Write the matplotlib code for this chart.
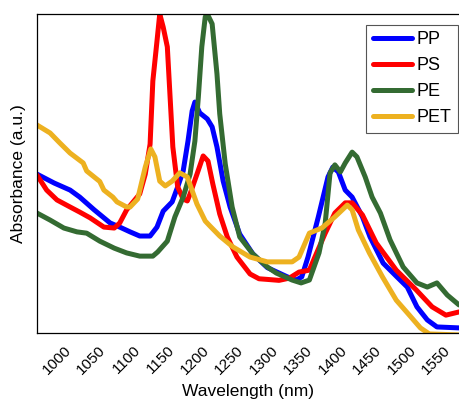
import numpy as np
import matplotlib
matplotlib.use("Agg")
import matplotlib.pyplot as plt

plt.rcParams['font.family'] = ['Liberation Sans', 'DejaVu Sans']

# Spectra (wavelength in nm, absorbance in a.u.)
pp_wl = [961, 986, 1009, 1023, 1044, 1067, 1081, 1096, 1110, 1125, 1135, 1144, 1157,
         1165, 1173, 1180, 1186, 1190, 1197, 1208, 1215, 1222, 1231, 1241, 1255, 1274,
         1295, 1324, 1337, 1345, 1354, 1369, 1383, 1390, 1398, 1408, 1418, 1433, 1444,
         1463, 1483, 1498, 1512, 1527, 1541, 1573]
pp_abs = [0.498, 0.470, 0.448, 0.426, 0.386, 0.345, 0.332, 0.317, 0.304, 0.304, 0.332,
          0.382, 0.411, 0.458, 0.508, 0.602, 0.696, 0.724, 0.690, 0.671, 0.646, 0.583,
          0.476, 0.395, 0.310, 0.248, 0.205, 0.176, 0.166, 0.176, 0.238, 0.364, 0.489,
          0.520, 0.505, 0.448, 0.426, 0.364, 0.301, 0.219, 0.176, 0.144, 0.082, 0.041,
          0.019, 0.016]

ps_wl = [961, 975, 990, 1009, 1023, 1038, 1058, 1073, 1081, 1091, 1110, 1118, 1125,
         1129, 1135, 1139, 1144, 1150, 1154, 1158, 1165, 1173, 1179, 1183, 1193, 1202,
         1209, 1216, 1226, 1237, 1251, 1270, 1283, 1295, 1312, 1327, 1341, 1356, 1364,
         1379, 1393, 1408, 1418, 1433, 1453, 1482, 1511, 1534, 1554, 1573]
ps_abs = [0.495, 0.448, 0.417, 0.395, 0.379, 0.361, 0.332, 0.329, 0.345, 0.386, 0.436,
          0.498, 0.592, 0.790, 0.915, 1.000, 0.959, 0.897, 0.740, 0.583, 0.458, 0.420,
          0.414, 0.436, 0.498, 0.555, 0.539, 0.467, 0.373, 0.301, 0.238, 0.185, 0.170,
          0.168, 0.165, 0.172, 0.191, 0.197, 0.238, 0.313, 0.376, 0.408, 0.408, 0.370,
          0.282, 0.197, 0.135, 0.082, 0.056, 0.066]

pe_wl = [961, 980, 1000, 1019, 1033, 1052, 1073, 1091, 1110, 1129, 1136, 1150, 1161,
         1173, 1183, 1190, 1195, 1200, 1205, 1208, 1215, 1222, 1226, 1234, 1244, 1255,
         1274, 1295, 1308, 1331, 1344, 1356, 1370, 1379, 1386, 1393, 1401, 1408, 1418,
         1425, 1437, 1447, 1459, 1473, 1492, 1512, 1527, 1541, 1556, 1573]
pe_abs = [0.376, 0.354, 0.329, 0.317, 0.313, 0.288, 0.266, 0.251, 0.241, 0.241, 0.254,
          0.288, 0.364, 0.426, 0.498, 0.602, 0.740, 0.897, 0.991, 1.000, 0.969, 0.812,
          0.687, 0.530, 0.395, 0.301, 0.248, 0.207, 0.188, 0.166, 0.157, 0.166, 0.251,
          0.345, 0.502, 0.527, 0.505, 0.533, 0.567, 0.552, 0.489, 0.426, 0.376, 0.292,
          0.207, 0.157, 0.144, 0.157, 0.119, 0.088]

pet_wl = [961, 980, 994, 1009, 1028, 1033, 1052, 1058, 1071, 1077, 1091, 1096, 1107,
          1118, 1126, 1132, 1139, 1147, 1157, 1168, 1179, 1193, 1205, 1212, 1226, 1245,
          1270, 1295, 1331, 1341, 1356, 1374, 1393, 1411, 1418, 1427, 1443, 1462, 1482,
          1501, 1517, 1530, 1573]
pet_abs = [0.652, 0.627, 0.596, 0.564, 0.533, 0.508, 0.475, 0.448, 0.426, 0.411, 0.395,
           0.395, 0.420, 0.520, 0.577, 0.552, 0.476, 0.461, 0.476, 0.502, 0.489, 0.404,
           0.351, 0.335, 0.304, 0.270, 0.238, 0.223, 0.223, 0.238, 0.313, 0.329, 0.364,
           0.401, 0.386, 0.323, 0.251, 0.176, 0.103, 0.056, 0.016, -0.003, -0.006]

labels = ["PP", "PS", "PE", "PET"]
colors = ["#0000ff", "#ff0000", "#346b32", "#edb120"]
xticks = list(range(1000, 1551, 50))

fig = plt.figure(figsize=(4.59, 4.01), dpi=100)
ax = fig.add_axes([37 / 459, 68 / 401, 422 / 459, 319 / 401])

for wl, ab, lab, col in zip([pp_wl, ps_wl, pe_wl, pet_wl],
                            [pp_abs, ps_abs, pe_abs, pet_abs], labels, colors):
    ax.plot(wl, ab, color=col, lw=3.6, label=lab, solid_joinstyle='round',
            solid_capstyle='round')

ax.set_xlim(961, 1573)
ax.set_ylim(0, 1.0)
ax.set_xticks(xticks)
ax.set_xticklabels([str(t) for t in xticks])
ax.set_yticks([])
ax.tick_params(axis='x', length=0, pad=7.5, labelsize=11)
plt.setp(ax.get_xticklabels(), rotation=45, ha='right', va='top', rotation_mode='anchor')
ax.spines['right'].set_visible(False)
for s in ['left', 'bottom', 'top']:
    ax.spines[s].set_linewidth(0.9)

ax.set_xlabel("Wavelength (nm)", fontsize=12.5, labelpad=5)
ax.set_ylabel("Absorbance (a.u.)", fontsize=12.5, labelpad=8)

leg = ax.legend(loc='upper right', bbox_to_anchor=(0.998, 0.966), borderaxespad=0,
                fontsize=13, fancybox=False, edgecolor='#555555', framealpha=1,
                handlelength=2.2, handletextpad=0.25, labelspacing=0.5, borderpad=0.35)
leg.get_frame().set_linewidth(0.8)

fig.savefig("out.png", dpi=100)
